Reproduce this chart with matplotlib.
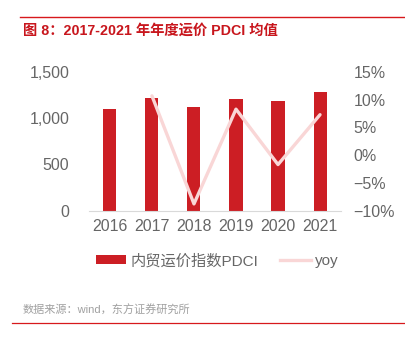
import matplotlib
matplotlib.use("Agg")
import matplotlib.pyplot as plt
from matplotlib.lines import Line2D
from matplotlib.patches import Patch
from matplotlib.ticker import FuncFormatter

plt.rcParams['font.family'] = ['Liberation Sans', 'Noto Sans CJK SC', 'DejaVu Sans']

years = ['2016', '2017', '2018', '2019', '2020', '2021']
pdci = [1103, 1223, 1117, 1212, 1190, 1280]
yoy_years = ['2017', '2018', '2019', '2020', '2021']
yoy = [10.7, -8.8, 8.3, -1.7, 7.3]

bar_color = '#CC1E24'
line_color = '#F9D6D6'
tick_color = '#666666'

fig = plt.figure(figsize=(4.06, 3.48), dpi=100)
ax = fig.add_axes([0.219, 0.395, 0.621, 0.398])

x = list(range(len(years)))
ax.bar(x, pdci, width=0.31, color=bar_color, zorder=2)
ax.set_xlim(-0.5, len(years) - 0.5)
ax.set_ylim(0, 1500)
ax.set_yticks([0, 500, 1000, 1500])
ax.yaxis.set_major_formatter(FuncFormatter(lambda v, p: f'{int(v):,}'))
ax.set_xticks(x)
ax.set_xticklabels(years)

ax2 = ax.twinx()
xi = [years.index(y) for y in yoy_years]
ax2.plot(xi, yoy, color=line_color, lw=2.4, solid_capstyle='round', zorder=3)
ax2.set_ylim(-10, 15)
ax2.set_yticks([-10, -5, 0, 5, 10, 15])
ax2.set_yticklabels(['\u221210%', '\u22125%', '0%', '5%', '10%', '15%'])

for a in (ax, ax2):
    for s in ['left', 'right', 'top']:
        a.spines[s].set_visible(False)
    a.tick_params(length=0, labelsize=11.5, colors=tick_color)
ax2.spines['bottom'].set_visible(False)
ax.spines['bottom'].set_color('#D9D9D9')
ax.tick_params(axis='y', pad=14)
ax.tick_params(axis='x', pad=6)
ax2.tick_params(axis='y', pad=9)

handles = [Patch(facecolor=bar_color, label='内贸运价指数PDCI'),
           Line2D([0], [0], color=line_color, lw=2.4, label='yoy')]
fig.legend(handles=handles, loc='center', bbox_to_anchor=(0.535, 0.25), ncol=2,
           frameon=False, fontsize=11, labelcolor=tick_color,
           handlelength=2.0, handleheight=0.55, columnspacing=1.4, handletextpad=0.3)

# title and source
fig.add_artist(Line2D([0.05, 1.0], [1 - 17 / 348] * 2, color='#D7191C', lw=1.0))
fig.text(23 / 406, 1 - 31 / 348, '图 8：2017-2021 年年度运价 PDCI 均值', color='#C8161D',
         fontsize=10.3, fontweight='bold', va='center', ha='left')
fig.text(23 / 406, 1 - 310 / 348, '数据来源：wind，东方证券研究所', color='#A0A0A0',
         fontsize=8, va='center', ha='left')
fig.add_artist(Line2D([12 / 406, 1.0], [1 - 323 / 348] * 2, color='#D7191C', lw=0.9))

fig.savefig('out.png', dpi=100)
